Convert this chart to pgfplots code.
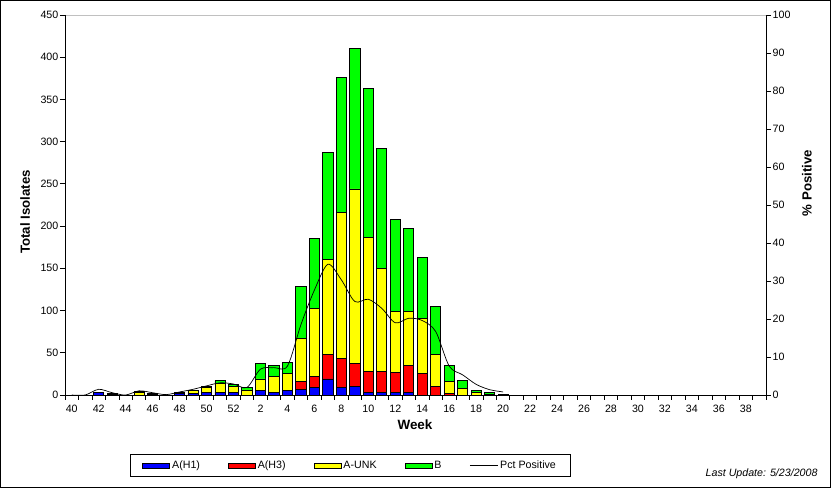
\documentclass[border=0pt]{standalone}
\usepackage{fontspec}
\setmainfont{Liberation Sans}
\usepackage{pgfplots}
\usepackage{pgfplotstable}
\pgfplotsset{compat=1.18}
\definecolor{cHone}{RGB}{0,0,255}
\definecolor{cHthree}{RGB}{255,0,0}
\definecolor{cUNK}{RGB}{255,255,0}
\definecolor{cB}{RGB}{0,255,0}
\definecolor{topgray}{RGB}{192,192,192}
\newcommand\fs{\fontsize{10.7}{12}\selectfont}
\pgfplotsset{
  swatch/.style={legend image code/.code={\draw[##1] (0bp,-2.5bp) rectangle (27bp,2.5bp);}},
  lineleg/.style={legend image code/.code={\draw[##1] (0bp,0bp) -- (28bp,0bp);}},
}
% i = category index (0 = week 40, 13 = week 1, 32 = week 20)
\pgfplotstableread{
i  h1 h3 unk b   pct
0  0  0  0   0   0
1  0  0  0   0   0
2  3  0  0   0   1.5
3  1  0  1   0   0.6
4  0  0  0   0   0
5  0  0  3   1   1.1
6  1  0  1   0   0.6
7  0  0  0   0   0.1
8  2  0  1   0   0.8
9  2  0  3   0   1.5
10 3  0  6   1   2.4
11 3  0  11  3   3.2
12 3  0  7   3   2.9
13 0  0  6   3   2.0
14 5  0  14  18  6.8
15 3  0  19  13  7.2
16 5  0  21  13  7.6
17 7  9  51  62  18.5
18 9  13 80  83  27.6
19 19 29 113 126 34.4
20 9  34 173 160 30.3
21 10 27 207 166 24.6
22 3  25 159 176 25.2
23 3  25 122 142 22.8
24 3  24 72  109 19.0
25 3  32 64  98  20.2
26 0  26 65  72  19.6
27 0  10 38  57  16.7
28 0  2  14  19  7.6
29 0  0  8   9   5.3
30 0  0  3   2   2.8
31 0  0  1   2   1.4
32 0  0  0   1   0.8
}\flu
\begin{document}
\begin{tikzpicture}
\useasboundingbox (0,0) rectangle (831bp,488bp);
\fill[white] (0,0) rectangle (831bp,488bp);
\begin{axis}[
  at={(65bp,93bp)}, anchor=south west, scale only axis,
  width=701bp, height=380bp,
  xmin=-0.5, xmax=51.5, ymin=0, ymax=450,
  ybar stacked, bar width=10.2bp,
  axis line style={draw=none},
  xtick pos=bottom, ytick pos=left,
  tick align=outside, major tick length=5bp,
  tick style={black, line width=0.8bp},
  xtick={-0.5,0.5,...,51.5}, xticklabels={},
  extra x ticks={0,2,...,50},
  extra x tick labels={40,42,44,46,48,50,52,2,4,6,8,10,12,14,16,18,20,22,24,26,28,30,32,34,36,38},
  extra x tick style={major tick length=0pt, tick style={draw=none},
    xticklabel style={yshift=-8bp}},
  ytick={0,50,...,450},
  /pgf/number format/assume math mode=true,
  ticklabel style={font=\fs},
  yticklabel style={inner sep=1.5bp},
  xticklabel style={inner sep=2bp},
  xlabel={Week},
  xlabel style={font=\bfseries\fontsize{13.5}{15}\selectfont, at={(axis description cs:0.4993,-0.079)}, anchor=center},
  ylabel={Total Isolates},
  ylabel style={font=\bfseries\fontsize{13.3}{15}\selectfont, at={(axis description cs:-0.057,0.4816)}, anchor=center, rotate=0},
  every axis plot/.append style={draw=black, line width=0.8bp},
  after end axis/.code={
    \draw[topgray, line width=0.8bp] (rel axis cs:0,1) -- (rel axis cs:1,1);
    \draw[black, line width=0.8bp] (rel axis cs:0,1) -- (rel axis cs:0,0) -- (rel axis cs:1,0);
  },
]
\addplot[fill=cHone] table[x=i,y=h1]{\flu};
\addplot[fill=cHthree] table[x=i,y=h3]{\flu};
\addplot[fill=cUNK] table[x=i,y=unk]{\flu};
\addplot[fill=cB] table[x=i,y=b]{\flu};
\end{axis}
\begin{axis}[
  at={(65bp,93bp)}, anchor=south west, scale only axis,
  width=701bp, height=380bp,
  xmin=-0.5, xmax=51.5, ymin=0, ymax=100,
  axis line style={draw=none},
  xtick=\empty, ytick pos=right,
  ytick={0,10,...,100},
  tick align=outside, major tick length=5bp,
  tick style={black, line width=0.8bp},
  /pgf/number format/assume math mode=true,
  ticklabel style={font=\fs},
  yticklabel style={inner sep=1.5bp},
  ylabel={\% Positive},
  ylabel style={font=\bfseries\fontsize{13.3}{15}\selectfont, at={(axis description cs:1.0585,0.558)}, anchor=center, rotate=0},
  legend columns=5,
  legend style={at={(axis description cs:0.0927,-0.1553)}, anchor=north west,
    draw=black, line width=0.8bp, font=\fs, inner xsep=12bp, inner ysep=5.5bp,
    /tikz/every even column/.append style={column sep=26bp},
    nodes={inner xsep=2bp, inner ysep=1bp}},
  after end axis/.code={
    \draw[black, line width=0.8bp] (rel axis cs:1,0) -- (rel axis cs:1,1);
  },
]
\addlegendimage{swatch, fill=cHone, draw=black, line width=0.8bp}
\addlegendentry{A(H1)}
\addlegendimage{swatch, fill=cHthree, draw=black, line width=0.8bp}
\addlegendentry{A(H3)}
\addlegendimage{swatch, fill=cUNK, draw=black, line width=0.8bp}
\addlegendentry{A-UNK}
\addlegendimage{swatch, fill=cB, draw=black, line width=0.8bp}
\addlegendentry{B}
\addplot[black, line width=0.7bp, smooth, tension=0.5, lineleg] table[x=i,y=pct]{\flu};
\addlegendentry{Pct Positive}
\end{axis}
\node[anchor=base east, font=\fs\itshape] at (821bp,12bp) {Last Update: 5/23/2008};
\draw[black, line width=1bp] (0.5bp,0.5bp) rectangle (830.5bp,487.5bp);
\end{tikzpicture}
\end{document}
